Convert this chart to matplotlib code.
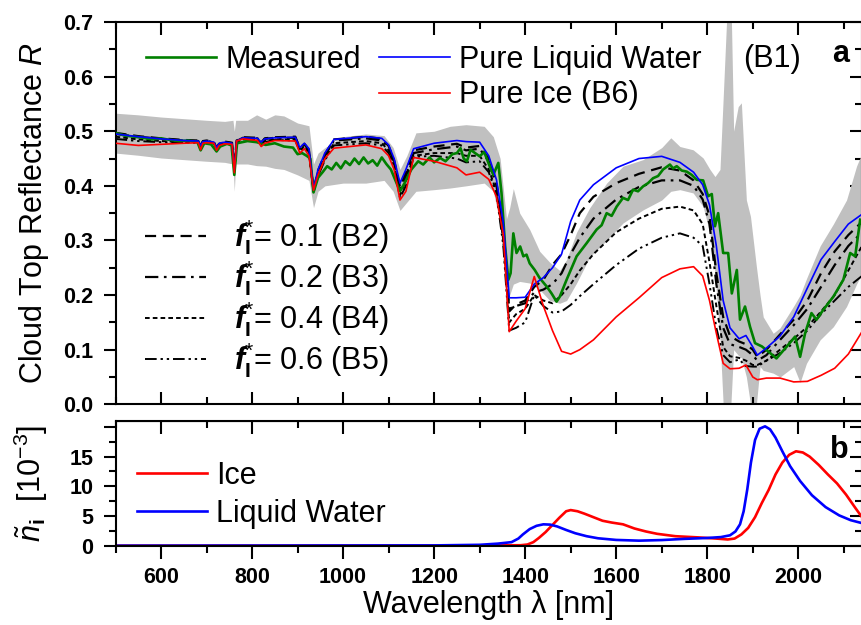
import numpy as np
import matplotlib.pyplot as plt
from matplotlib.lines import Line2D
from matplotlib.ticker import MultipleLocator

plt.rcParams['font.family'] = ['Liberation Sans', 'DejaVu Sans']
plt.rcParams['mathtext.fontset'] = 'custom'
plt.rcParams['mathtext.rm'] = 'Liberation Sans'
plt.rcParams['mathtext.it'] = 'Liberation Sans:italic'
plt.rcParams['mathtext.bf'] = 'Liberation Sans:bold'
plt.rcParams['mathtext.bfit'] = 'Liberation Sans:bold:italic'

# ---- panel a: simulated spectra (shared wavelength grid) ----
wl_sim = np.array([500, 550, 600, 650, 682, 687, 692, 700, 716, 722,
                   728, 740, 756, 761, 766, 780, 812, 820, 828, 850,
                   895, 905, 915, 925, 935, 945, 960, 980, 1050, 1085,
                   1100, 1112, 1125, 1138, 1155, 1200, 1250, 1270, 1300, 1320,
                   1337, 1352, 1365, 1380, 1400, 1420, 1440, 1460, 1480, 1500,
                   1520, 1550, 1600, 1650, 1700, 1740, 1770, 1790, 1805, 1820,
                   1835, 1850, 1870, 1885, 1900, 1910, 1930, 1960, 1990, 2020,
                   2050, 2080, 2110, 2140])

r_water = np.array([.495, .49, .486, .483, .482, .474, .481, .482, .48, .47,
                    .478, .48, .478, .43, .482, .488, .487, .48, .486, .488,
                    .489, .47, .478, .468, .395, .43, .46, .485, .49, .487,
                    .475, .45, .405, .43, .468, .478, .483, .481, .48, .455,
                    .411, .332, .195, .195, .196, .22, .232, .25, .275, .335,
                    .374, .402, .433, .45, .454, .443, .425, .402, .365, .29,
                    .19, .14, .12, .126, .105, .09, .103, .125, .16, .213,
                    .265, .298, .33, .348])

r_ice = np.array([.478, .474, .476, .478, .479, .466, .478, .479, .478, .465,
                  .474, .477, .476, .424, .482, .486, .483, .472, .478, .483,
                  .482, .46, .468, .455, .392, .42, .45, .469, .475, .468,
                  .455, .43, .374, .39, .452, .445, .433, .42, .425, .412,
                  .38, .31, .133, .152, .175, .234, .18, .135, .097, .092,
                  .1, .118, .16, .195, .232, .248, .252, .235, .19, .13,
                  .075, .065, .066, .072, .05, .045, .048, .048, .041, .042,
                  .053, .066, .092, .133])

r_f01 = np.array([.497, .491, .487, .484, .483, .473, .482, .483, .481, .469,
                  .478, .481, .479, .43, .483, .489, .488, .479, .487, .489,
                  .49, .469, .477, .466, .392, .428, .458, .485, .49, .486,
                  .473, .447, .398, .425, .465, .472, .477, .47, .473, .45,
                  .405, .32, .17, .183, .19, .215, .228, .255, .275, .31,
                  .35, .38, .405, .422, .434, .428, .41, .385, .345, .24,
                  .16, .125, .115, .11, .1, .087, .1, .128, .155, .19,
                  .24, .28, .31, .334])

r_f02 = np.array([.495, .49, .486, .483, .482, .472, .481, .482, .48, .468,
                  .477, .48, .478, .428, .482, .488, .487, .478, .486, .488,
                  .488, .468, .476, .465, .39, .425, .455, .483, .487, .483,
                  .47, .444, .39, .418, .46, .467, .472, .465, .468, .445,
                  .4, .31, .175, .18, .185, .205, .21, .22, .24, .275,
                  .305, .34, .375, .398, .41, .41, .4, .375, .33, .22,
                  .14, .11, .105, .1, .09, .08, .09, .118, .145, .175,
                  .215, .255, .29, .315])

r_f04 = np.array([.49, .485, .482, .48, .48, .47, .479, .48, .479, .467,
                  .476, .478, .477, .427, .48, .486, .485, .475, .482, .485,
                  .485, .465, .473, .462, .388, .42, .45, .478, .482, .478,
                  .465, .44, .383, .41, .455, .46, .46, .455, .455, .43,
                  .39, .3, .15, .165, .175, .2, .19, .185, .2, .22,
                  .245, .275, .315, .34, .358, .362, .355, .33, .26, .18,
                  .105, .088, .085, .08, .072, .072, .08, .1, .12, .142,
                  .17, .2, .245, .29])

r_f06 = np.array([.486, .482, .48, .479, .479, .468, .478, .479, .478, .466,
                  .475, .477, .476, .426, .48, .485, .484, .473, .48, .484,
                  .483, .463, .47, .46, .39, .418, .447, .474, .478, .474,
                  .46, .437, .378, .4, .453, .455, .45, .443, .445, .425,
                  .385, .29, .135, .14, .15, .2, .18, .168, .17, .182,
                  .198, .22, .255, .285, .305, .313, .305, .29, .22, .14,
                  .09, .077, .082, .07, .069, .069, .08, .094, .112, .135,
                  .165, .19, .215, .235])

# ---- panel a: measured spectrum ----
wl_meas = np.array([500, 520, 540, 560, 580, 600, 620, 640, 660, 680,
                    687, 695, 710, 722, 730, 745, 755, 761, 767, 790,
                    810, 830, 850, 870, 890, 900, 910, 920, 928, 935,
                    945, 955, 965, 975, 985, 995, 1005, 1015, 1025, 1035,
                    1045, 1055, 1065, 1075, 1085, 1095, 1105, 1115, 1125, 1135,
                    1150, 1165, 1176, 1190, 1200, 1213, 1225, 1240, 1250, 1258,
                    1265, 1272, 1280, 1290, 1300, 1310, 1322, 1330, 1341, 1348,
                    1356, 1363, 1368, 1374, 1381, 1389, 1396, 1403, 1410, 1421,
                    1432, 1447, 1458, 1469, 1476, 1491, 1513, 1535, 1557, 1568,
                    1579, 1590, 1601, 1615, 1626, 1637, 1648, 1659, 1670, 1681,
                    1692, 1703, 1718, 1725, 1733, 1744, 1755, 1766, 1777, 1791,
                    1802, 1810, 1817, 1824, 1835, 1846, 1854, 1865, 1872, 1883,
                    1894, 1905, 1920, 1938, 1952, 1975, 1993, 2004, 2015, 2029,
                    2040, 2055, 2077, 2099, 2114, 2125, 2136])

r_meas = np.array([.497, .492, .49, .488, .485, .487, .484, .482, .483, .48,
                   .465, .478, .476, .463, .472, .477, .474, .42, .478, .482,
                   .48, .475, .478, .472, .47, .458, .46, .455, .45, .388,
                   .415, .425, .436, .43, .442, .432, .445, .438, .45, .44,
                   .452, .441, .447, .437, .452, .44, .43, .41, .39, .405,
                   .43, .445, .439, .452, .443, .451, .445, .458, .46, .469,
                   .45, .445, .466, .46, .454, .462, .436, .42, .442, .387,
                   .289, .228, .24, .313, .277, .289, .271, .274, .258, .246,
                   .231, .216, .203, .188, .197, .228, .271, .295, .32, .328,
                   .35, .345, .362, .378, .374, .393, .39, .399, .405, .414,
                   .418, .43, .439, .432, .436, .428, .426, .42, .411, .41,
                   .381, .385, .326, .35, .277, .277, .203, .246, .155, .179,
                   .142, .112, .106, .094, .084, .106, .124, .087, .13, .167,
                   .155, .173, .197, .228, .277, .271, .338])

# ---- panel a: grey variability band ----
wl_band = np.array([500, 550, 600, 650, 700, 740, 758, 761, 764, 790,
                    810, 830, 850, 870, 900, 925, 935, 945, 960, 1000,
                    1050, 1090, 1110, 1125, 1140, 1160, 1200, 1235, 1270, 1310,
                    1330, 1345, 1359, 1366, 1374, 1388, 1410, 1432, 1454, 1476,
                    1491, 1513, 1542, 1579, 1615, 1659, 1700, 1720, 1740, 1769,
                    1791, 1806, 1817, 1828, 1835, 1845, 1852, 1858, 1868, 1875,
                    1886, 1895, 1908, 1916, 1923, 1945, 1960, 1990, 2004, 2018,
                    2048, 2077, 2106, 2128, 2140])

r_upper = np.array([.533, .53, .526, .523, .52, .518, .52, .5, .52, .52,
                    .53, .522, .53, .528, .515, .51, .44, .46, .47, .49,
                    .495, .492, .47, .43, .455, .497, .5, .509, .512, .509,
                    .49, .45, .34, .36, .395, .35, .32, .28, .26, .245,
                    .265, .315, .36, .405, .436, .448, .47, .488, .472, .466,
                    .451, .43, .417, .43, .56, .75, .75, .5, .545, .552,
                    .374, .344, .252, .2, .16, .13, .14, .18, .2, .23,
                    .29, .33, .374, .436, .46])

r_lower = np.array([.46, .456, .451, .448, .445, .443, .44, .39, .44, .44,
                    .437, .436, .432, .43, .42, .41, .36, .39, .4, .405,
                    .405, .41, .39, .355, .37, .39, .393, .396, .4, .405,
                    .39, .33, .21, .2, .22, .225, .222, .21, .19, .185,
                    .19, .222, .27, .30, .332, .356, .374, .39, .393, .387,
                    .362, .313, .24, .12, 0, 0, 0, .1, .09, .085,
                    .05, 0, 0, .069, .062, .057, .05, .069, .04, .075,
                    .118, .142, .179, .22, .24])

# ---- panel b: imaginary refractive index (x 1e-3) ----
wl_nw = np.array([500, 1200, 1300, 1340, 1370, 1385, 1395, 1410, 1425, 1440,
                  1455, 1470, 1490, 1510, 1535, 1560, 1600, 1650, 1700, 1750,
                  1800, 1830, 1850, 1862, 1872, 1880, 1888, 1896, 1905, 1915,
                  1927, 1938, 1950, 1965, 1982, 2004, 2030, 2060, 2090, 2115,
                  2140])
n_water = np.array([0, 0.05, 0.15, 0.35, 0.6, 1.2, 1.9, 2.8, 3.35, 3.6,
                    3.55, 3.25, 2.65, 2.1, 1.6, 1.25, 0.97, 0.85, 0.95, 1.15,
                    1.3, 1.45, 1.75, 2.4, 3.6, 5.8, 9.5, 14.0, 17.8, 19.7,
                    20.1, 19.6, 18.2, 15.9, 13.4, 10.9, 8.5, 6.5, 5.1, 4.3,
                    3.8])

wl_ni = np.array([500, 1300, 1390, 1405, 1418, 1430, 1445, 1460, 1475, 1490,
                  1500, 1515, 1530, 1550, 1570, 1590, 1615, 1640, 1665, 1690,
                  1730, 1780, 1820, 1845, 1860, 1875, 1890, 1905, 1920, 1935,
                  1950, 1965, 1980, 1995, 2010, 2025, 2045, 2065, 2085, 2105,
                  2125, 2140])
n_ice = np.array([0, 0.02, 0.08, 0.2, 0.6, 1.3, 2.3, 3.5, 4.7, 5.8,
                  6.0, 5.8, 5.4, 4.8, 4.2, 3.9, 3.6, 2.9, 2.4, 2.0,
                  1.6, 1.4, 1.2, 1.05, 1.2, 1.9, 3.0, 4.8, 7.2, 9.4,
                  12.0, 14.0, 15.3, 15.9, 15.7, 15.0, 13.6, 12.0, 10.5, 8.6,
                  6.4, 4.8])

x_ticks = [600, 800, 1000, 1200, 1400, 1600, 1800, 2000]
x_labels = ['600', '800', '1000', '1200', '1400', '1600', '1800', '2000']
ya_ticks = [0.0, 0.1, 0.2, 0.3, 0.4, 0.5, 0.6, 0.7]
ya_labels = ['0.0', '0.1', '0.2', '0.3', '0.4', '0.5', '0.6', '0.7']
yb_ticks = [0, 5, 10, 15, 20]
yb_labels = ['0', '5', '10', '15', '']

W, H = 861, 625
fig = plt.figure(figsize=(W / 100, H / 100), dpi=100)
L, R = 115.5, 862
ax = fig.add_axes([L / W, 1 - 404.3 / H, (R - L) / W, (404.3 - 22) / H])
axb = fig.add_axes([L / W, 1 - 545.7 / H, (R - L) / W, (545.7 - 421) / H])

tick_fs = 15.5
lab_fs = 22
leg_fs = 22

ax.fill_between(wl_band, r_lower, r_upper, color='#c0c0c0', lw=0, zorder=1)
l2, = ax.plot(wl_sim, r_f01, color='k', lw=1.6, ls=(0, (5, 3)), zorder=2)
l3, = ax.plot(wl_sim, r_f02, color='k', lw=1.6, ls=(0, (6, 2.5, 1.2, 2.5)), zorder=2)
l4, = ax.plot(wl_sim, r_f04, color='k', lw=1.4, ls=(0, (2.4, 1.6)), zorder=2)
l5, = ax.plot(wl_sim, r_f06, color='k', lw=1.4, ls=(0, (6, 2, 1.2, 2, 1.2, 2)), zorder=2)
lm, = ax.plot(wl_meas, r_meas, color='#008000', lw=1.9, zorder=3)
lw_, = ax.plot(wl_sim, r_water, color='#0000ff', lw=1.2, zorder=4)
li, = ax.plot(wl_sim, r_ice, color='#ff0000', lw=1.2, zorder=5)

ax.set_xlim(500, 2140)
ax.set_ylim(0, 0.7)
ax.set_xticks(x_ticks)
ax.xaxis.set_minor_locator(MultipleLocator(100))
ax.tick_params(axis='x', which='both', direction='in', top=True, bottom=True,
               labelbottom=False, width=1.5)
ax.tick_params(axis='x', which='major', length=9)
ax.tick_params(axis='x', which='minor', length=5)
ax.set_yticks(ya_ticks, ya_labels, fontsize=tick_fs, fontweight='bold')
ax.yaxis.set_minor_locator(MultipleLocator(0.05))
ax.tick_params(axis='y', which='both', direction='out', left=True, right=False,
               width=1.5, pad=7)
ax.tick_params(axis='y', which='major', length=9)
ax.tick_params(axis='y', which='minor', length=5)
sa = ax.secondary_yaxis('right')
sa.set_yticks(ya_ticks)
sa.yaxis.set_minor_locator(MultipleLocator(0.05))
sa.tick_params(which='both', direction='in', labelright=False, width=1.5)
sa.tick_params(which='major', length=9)
sa.tick_params(which='minor', length=5)
ax.set_ylabel('Cloud Top Reflectance $R$', fontsize=lab_fs, labelpad=9)

for sp in list(ax.spines.values()) + list(axb.spines.values()):
    sp.set_linewidth(1.5)

blank = Line2D([], [], color='none')
leg1 = ax.legend([lm, blank, lw_, li], ['Measured', ' ', 'Pure Liquid Water', 'Pure Ice (B6)'],
                 ncol=2, loc='upper left', bbox_to_anchor=(146 / W, 1 - 45 / H),
                 bbox_transform=fig.transFigure, frameon=False, fontsize=leg_fs,
                 handlelength=2.3, handletextpad=0.3, columnspacing=0.6,
                 labelspacing=0.18, borderpad=0, borderaxespad=0)
ax.add_artist(leg1)
fig.text(743 / W, 1 - 59 / H, '(B1)', fontsize=leg_fs, va='center', ha='left')
fig.text(832 / W, 1 - 61.7 / H, 'a', fontsize=leg_fs, fontweight='bold',
         va='baseline', ha='left')

leg2 = ax.legend([l2, l3, l4, l5],
                 [r'$\mathbfit{f}^{*}_{\mathbf{I}}$= 0.1 (B2)',
                  r'$\mathbfit{f}^{*}_{\mathbf{I}}$= 0.2 (B3)',
                  r'$\mathbfit{f}^{*}_{\mathbf{I}}$= 0.4 (B4)',
                  r'$\mathbfit{f}^{*}_{\mathbf{I}}$= 0.6 (B5)'],
                 loc='upper left', bbox_to_anchor=(145 / W, 1 - 217 / H),
                 bbox_transform=fig.transFigure, frameon=False, fontsize=leg_fs,
                 handlelength=2.0, handletextpad=0.9, labelspacing=0.04,
                 borderpad=0, borderaxespad=0)

# ---- panel b ----
li_b, = axb.plot(wl_ni, n_ice, color='#ff0000', lw=1.9)
lw_b, = axb.plot(wl_nw, n_water, color='#0000ff', lw=1.9)
axb.set_xlim(500, 2140)
axb.set_ylim(0, 21)
axb.set_xticks(x_ticks, x_labels, fontsize=tick_fs, fontweight='bold')
axb.xaxis.set_minor_locator(MultipleLocator(100))
axb.tick_params(axis='x', which='both', direction='out', top=False, width=1.5, pad=6)
axb.tick_params(axis='x', which='major', length=9)
axb.tick_params(axis='x', which='minor', length=5)
sx = axb.secondary_xaxis('top')
sx.set_xticks(x_ticks)
sx.xaxis.set_minor_locator(MultipleLocator(100))
sx.tick_params(which='both', direction='in', labeltop=False, width=1.5)
sx.tick_params(which='major', length=9)
sx.tick_params(which='minor', length=5)
axb.set_yticks(yb_ticks, yb_labels, fontsize=tick_fs, fontweight='bold')
axb.yaxis.set_minor_locator(MultipleLocator(2.5))
axb.tick_params(axis='y', which='both', direction='out', right=False, width=1.5, pad=7)
axb.tick_params(axis='y', which='major', length=9)
axb.tick_params(axis='y', which='minor', length=5)
sb = axb.secondary_yaxis('right')
sb.set_yticks(yb_ticks)
sb.yaxis.set_minor_locator(MultipleLocator(2.5))
sb.tick_params(which='both', direction='in', labelright=False, width=1.5)
sb.tick_params(which='major', length=9)
sb.tick_params(which='minor', length=5)
axb.set_ylabel(r'$\tilde{n}_{\mathbf{i}}$  [10$^{-3}$]', fontsize=lab_fs, labelpad=14)
axb.set_xlabel(r'Wavelength λ [nm]', fontsize=lab_fs, labelpad=2)

axb.legend([li_b, lw_b], ['Ice', 'Liquid Water'], loc='upper left',
           bbox_to_anchor=(137 / W, 1 - 461 / H), bbox_transform=fig.transFigure,
           frameon=False, fontsize=leg_fs, handlelength=2.3, handletextpad=0.3,
           labelspacing=0.25, borderpad=0, borderaxespad=0)
fig.text(830 / W, 1 - 458.3 / H, 'b', fontsize=leg_fs, fontweight='bold',
         va='baseline', ha='left')

fig.savefig('out.png', dpi=100)
